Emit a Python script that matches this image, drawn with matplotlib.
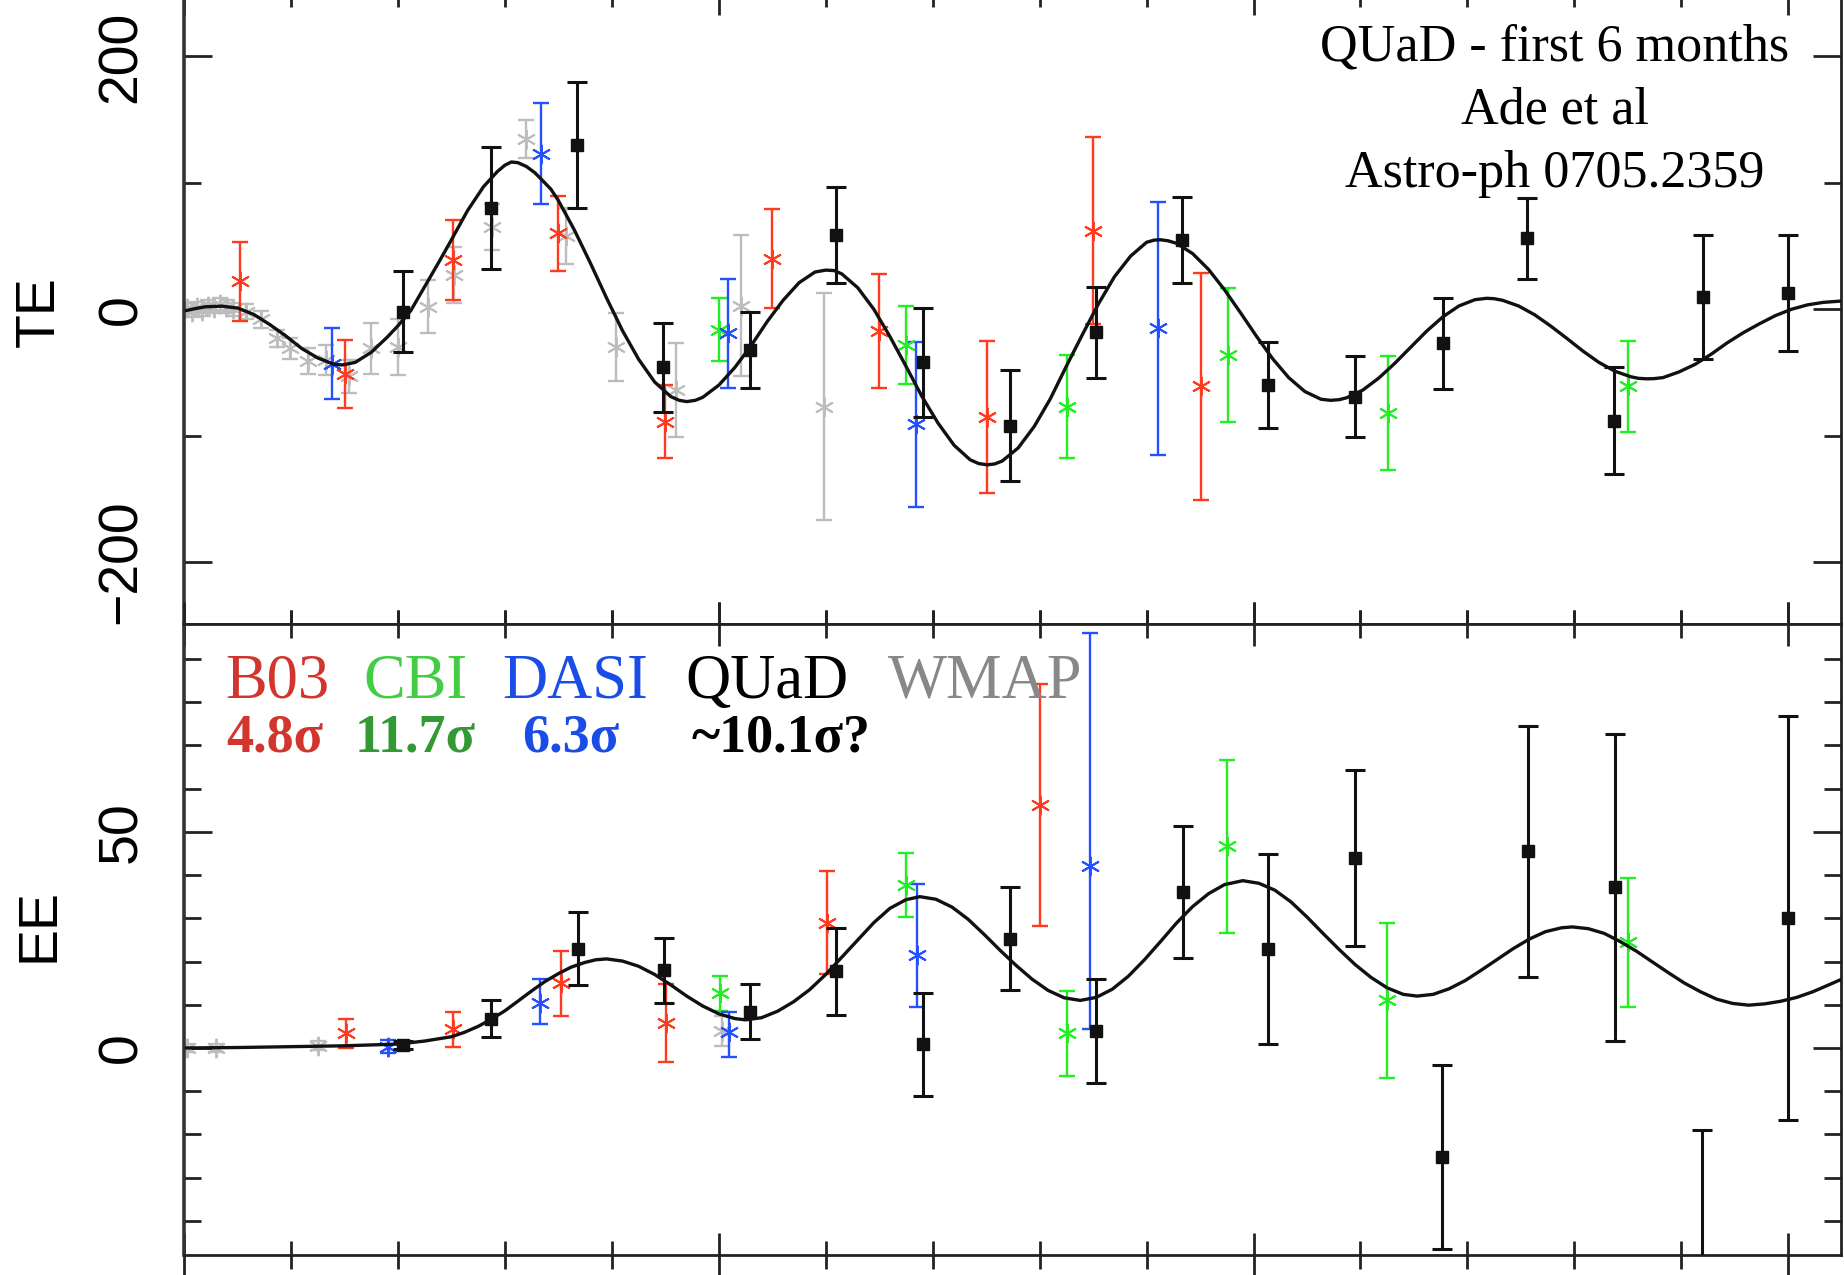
import matplotlib
matplotlib.use("Agg")
import matplotlib.pyplot as plt
from matplotlib.ticker import MultipleLocator, FixedLocator, NullFormatter

# ---------------- data (TE panel) ----------------
te_theory_l = [2, 10, 20, 35, 50, 65, 80, 95, 110, 125, 140, 148, 160, 175, 190, 200, 212, 225,
               238, 250, 265, 280, 293, 300, 306, 312, 320, 328, 335, 343, 350, 365, 380, 395,
               410, 425, 440, 455, 463, 470, 478, 485, 500, 515, 530, 545, 560, 575, 590, 600,
               608, 615, 630, 645, 660, 675, 690, 705, 720, 735, 743, 751, 758, 765, 780, 795,
               810, 825, 840, 855, 870, 885, 900, 907, 913, 920, 928, 943, 958, 973, 988, 1003,
               1018, 1033, 1048, 1063, 1072, 1080, 1087, 1102, 1117, 1132, 1147, 1162, 1177,
               1192, 1207, 1218, 1225, 1233, 1248, 1263, 1278, 1293, 1308, 1323, 1338, 1353,
               1360, 1368, 1375, 1383, 1398, 1413, 1428, 1443, 1458, 1473, 1488, 1503, 1518,
               1533, 1549]
te_theory = [-1, 0.5, 2, 2.5, 1, -4, -12, -21, -31, -38.5, -43.5, -44, -42, -34, -22, -13, -1, 18,
             37, 55, 78, 97, 109, 114, 116.5, 116, 113, 108, 102, 95, 86, 62.6, 36.4, 9,
             -17, -39.5, -57.5, -69, -72, -73, -72, -69.6, -60, -46, -29, -10, 7, 21, 29.5, 31,
             30.6, 28, 17, 0, -21.5, -45, -69, -90, -107.5, -119, -122, -123, -122.3, -120, -109.6, -92.6,
             -70.8, -45, -20, 4.3, 25.8, 42, 53, 54.7, 55, 54.2, 52.2, 44.1, 31.5, 15.3, -2.9, -21.6,
             -39.2, -54.1, -65, -71.1, -72, -71.5, -70, -64, -54.5, -42.8, -30, -17.2, -6,
             2.6, 7.6, 8.7, 8.4, 7.1, 2.6, -4.4, -13.3, -23, -33, -42, -49, -53.4,
             -54.6, -55, -54.8, -54, -49.5, -43.5, -35.5, -26.5, -18.5, -11.5, -5, 0, 3.5,
             5.5, 6.5]

te_b03_l = [52, 150, 251, 350, 450, 550, 650, 751, 850, 951]
te_b03 = [22, -51, 39, 60, -89, 40, -17, -85, 62, -61]
te_b03_err = [31, 27, 32, 30, 29, 39, 45, 60, 74, 90]

te_cbi_l = [500, 675, 826, 976, 1126, 1350]
te_cbi = [-16, -28, -77, -36, -82, -61]
te_cbi_err = [25, 31, 41, 53, 45, 36]

te_dasi_l = [138, 334, 509, 684, 911]
te_dasi = [-43, 123, -19, -91, -15]
te_dasi_err = [28, 40, 43, 65, 100]

te_quad_l = [205, 287, 367, 448, 529, 610, 691, 772, 853, 933, 1014, 1095, 1177, 1256, 1337, 1420, 1500]
te_quad = [-2, 80, 130, -46, -32, 59, -42, -92, -18, 55, -60, -69, -27, 56, -88, 10, 13]
te_quad_err = [32, 48, 50, 35, 30, 38, 43, 44, 36, 34, 34, 32, 36, 32, 42, 49, 46]

te_wmap_l = [3, 7, 12, 17, 22, 28, 34, 40, 46, 58, 72, 87, 99, 116, 133, 154, 175, 200, 228,
             252, 288, 320, 357, 404, 460, 521, 598]
te_wmap = [1, -2, 2, -1, 3, 1, 4, 2, 0, -2, -8, -23, -31, -41, -40, -53, -31, -30, 2,
           27, 65, 135, 58, -30, -64, 3, -77]
te_wmap_err = [4, 4, 4, 4, 4, 4, 5, 5, 5, 6, 7, 7, 8, 10, 12, 13, 20, 22, 21,
               22, 18, 15, 22, 27, 37, 56, 90]

# ---------------- data (EE panel) ----------------
ee_theory_l = [2, 50, 100, 150, 200, 225, 250, 262, 275, 287, 300, 312, 325, 337, 350, 362, 375,
               385, 395, 410, 425, 440, 455, 470, 485, 500, 515, 525, 540, 555, 570, 585, 600,
               615, 630, 645, 660, 675, 688, 703, 718, 733, 748, 763, 778, 793, 808, 823, 838,
               853, 868, 883, 898, 913, 928, 943, 958, 973, 990, 1005, 1020, 1035, 1050, 1065,
               1080, 1095, 1110, 1125, 1140, 1153, 1168, 1183, 1198, 1213, 1228, 1243, 1258,
               1273, 1288, 1298, 1313, 1328, 1343, 1358, 1373, 1388, 1403, 1418, 1433, 1448,
               1463, 1478, 1493, 1508, 1523, 1538, 1549]
ee_theory = [0, 0.1, 0.3, 0.5, 0.9, 1.6, 2.6, 3.6, 5.0, 6.6, 8.6, 10.8, 13.2, 15.3, 17.2, 18.7, 19.8,
             20.4, 20.6, 20.1, 18.9, 17, 14.6, 12, 9.7, 7.9, 6.8, 6.5, 7, 8.5, 10.7, 13.5, 17,
             21, 25, 29, 32.3, 34.3, 35, 34.4, 32.6, 29.8, 26.3, 22.6, 19.1, 15.9, 13.3, 11.6, 11,
             11.7, 13.6, 16.6, 20.4, 24.6, 28.9, 32.7, 35.7, 37.8, 38.7, 38.1, 36.5, 33.8, 30.3, 26.5,
             22.8, 19.3, 16.3, 13.9, 12.4, 12, 12.4, 13.7, 15.6, 18, 20.5, 23, 25.2,
             26.9, 27.8, 28, 27.6, 26.5, 24.6, 22.4, 19.9, 17.4, 15, 13, 11.3, 10.3,
             9.9, 10.2, 10.8, 11.7, 13, 14.6, 15.8]

ee_b03_l = [151, 251, 352, 451, 601, 800]
ee_b03 = [3.4, 4.3, 15, 5.7, 29, 56.3]
ee_b03_err = [3.3, 4, 7.5, 9, 12, 28]

ee_cbi_l = [501, 675, 826, 975, 1125, 1350]
ee_cbi = [12.6, 37.7, 3.4, 46.7, 11, 24.4]
ee_cbi_err = [4, 7.5, 9.8, 20, 18, 15]

ee_dasi_l = [191, 333, 510, 685, 847]
ee_dasi = [0.3, 10.5, 3.8, 21.5, 42]
ee_dasi_err_lo = [1.5, 5, 6, 12, 37.5]
ee_dasi_err_hi = [1.5, 5.5, 4.6, 16.5, 54]

ee_quad_l = [205, 287, 368, 449, 529, 610, 691, 772, 853, 934, 1014, 1095, 1176, 1257, 1338, 1419, 1500]
ee_quad = [0.7, 6.8, 23, 18, 8.4, 17.7, 0.8, 25.3, 3.9, 36, 22.9, 43.9, -25.3, 45.5, 37.2, -58, 30]
ee_quad_err = [1, 4.2, 8.4, 7.5, 6.4, 10, 11.8, 12, 12, 15.3, 22, 20.3, 21.3, 29, 35.5, 39, 46.7]

ee_wmap_l = [3, 30, 125, 503]
ee_wmap = [0, 0, 0.5, 4]
ee_wmap_err = [1, 1, 1, 3.5]

# ---------------- legend text ----------------
exp_names = ["B03", "CBI", "DASI", "QUaD", "WMAP"]
exp_sigmas = ["4.8σ", "11.7σ", "6.3σ", "~10.1σ?"]
note_lines = ["QUaD - first 6 months", "Ade et al", "Astro-ph 0705.2359"]

# ---------------- styles ----------------
C_RED = "#ff3a1e"
C_GREEN = "#22ee22"
C_BLUE = "#2450ff"
C_GRAY = "#bdbdbd"
C_BLACK = "#111111"
STAR = (6, 2, 0)

W, H = 1844, 1275
fig = plt.figure(figsize=(W / 100, H / 100), dpi=100)
fig.patch.set_facecolor("white")

ax1 = fig.add_axes([0.09984, 0.51098, 0.89832, 0.49435])
ax2 = fig.add_axes([0.09984, 0.01569, 0.89832, 0.49529])


def star_series(ax, l, v, err, color, z=3):
    ax.errorbar(l, v, yerr=err, fmt="none", ecolor=color, elinewidth=1.7,
                capsize=6, capthick=1.7, zorder=z)
    ax.plot(l, v, linestyle="none", marker=STAR, ms=14, mew=1.4,
            color=color, zorder=z + 0.1)


def quad_series(ax, l, v, err):
    ax.errorbar(l, v, yerr=err, fmt="s", color=C_BLACK, ms=9, ecolor=C_BLACK,
                elinewidth=2.2, capsize=7, capthick=2.2, zorder=7)


# TE panel
star_series(ax1, te_wmap_l, te_wmap, te_wmap_err, C_GRAY, z=2)
star_series(ax1, te_b03_l, te_b03, te_b03_err, C_RED)
star_series(ax1, te_cbi_l, te_cbi, te_cbi_err, C_GREEN)
star_series(ax1, te_dasi_l, te_dasi, te_dasi_err, C_BLUE)
ax1.plot(te_theory_l, te_theory, color=C_BLACK, lw=2.4, zorder=6,
         solid_joinstyle="round", solid_capstyle="round")
quad_series(ax1, te_quad_l, te_quad, te_quad_err)

# EE panel
star_series(ax2, ee_wmap_l, ee_wmap, ee_wmap_err, C_GRAY, z=2)
star_series(ax2, ee_b03_l, ee_b03, ee_b03_err, C_RED)
star_series(ax2, ee_cbi_l, ee_cbi, ee_cbi_err, C_GREEN)
star_series(ax2, ee_dasi_l, ee_dasi, [ee_dasi_err_lo, ee_dasi_err_hi], C_BLUE)
ax2.plot(ee_theory_l, ee_theory, color=C_BLACK, lw=2.4, zorder=6,
         solid_joinstyle="round", solid_capstyle="round")
quad_series(ax2, ee_quad_l, ee_quad, ee_quad_err)

ax1.set_xlim(0, 1549)
ax2.set_xlim(0, 1549)
ax1.set_ylim(-248.5, 250)
ax2.set_ylim(-47.9, 98.2)

for ax in (ax1, ax2):
    for side, sp in ax.spines.items():
        sp.set_linewidth(2.0)
        sp.set_color("#222222")
    ax.spines["left"].set_linewidth(2.6)
    ax.spines["left"].set_color("#333333")
    ax.xaxis.set_major_locator(MultipleLocator(500))
    ax.xaxis.set_minor_locator(MultipleLocator(100))
    ax.xaxis.set_major_formatter(NullFormatter())
    ax.tick_params(axis="x", which="both", direction="inout", top=True, bottom=True,
                   width=2.0, color="#222222", labelbottom=False)
    ax.tick_params(axis="x", which="major", length=32)
    ax.tick_params(axis="x", which="minor", length=20)
    ax.tick_params(axis="y", which="both", direction="in", left=True, right=True,
                   width=2.0, color="#222222")
    ax.tick_params(axis="y", which="major", length=20, labelsize=40, pad=26,
                   labelrotation=90)
    ax.tick_params(axis="y", which="minor", length=12)

ax1.yaxis.set_major_locator(FixedLocator([-200, 0, 200]))
ax1.yaxis.set_minor_locator(FixedLocator([-100, 100]))
ax2.yaxis.set_major_locator(FixedLocator([0, 50]))
ax2.yaxis.set_minor_locator(FixedLocator([-40, -30, -20, -10, 10, 20, 30, 40, 60, 70, 80, 90]))

for ax in (ax1, ax2):
    for t in ax.get_yticklabels():
        t.set_fontfamily("Liberation Sans")
        t.set_verticalalignment("center")

# axis titles
fig.text(0.0213, 0.7553, "TE", rotation=90, fontsize=40, family="Liberation Sans",
         ha="center", va="center")
fig.text(0.0213, 0.2745, "EE", rotation=90, fontsize=40, family="Liberation Sans",
         ha="center", va="center")

# annotation
serif = "Liberation Serif"
for line, yb in zip(note_lines, [0.9529, 0.9035, 0.8533]):
    fig.text(0.8433, yb, line, fontsize=37.5, family=serif, ha="center", va="baseline",
             color="black")

# legend names
name_x = [0.1220, 0.1969, 0.2721, 0.3715, 0.4816]
name_c = ["#d2352d", "#44cc44", "#1a4de8", "#000000", "#888888"]
for nm, x, c in zip(exp_names, name_x, name_c):
    fig.text(x, 0.4529, nm, fontsize=45, family=serif, color=c, ha="left", va="baseline")

sig_x = [0.1229, 0.1925, 0.2829, 0.3751]
sig_c = ["#d2352d", "#339933", "#1a4de8", "#000000"]
for s, x, c in zip(exp_sigmas, sig_x, sig_c):
    fig.text(x, 0.4102, s, fontsize=39, family=serif, weight="bold", color=c,
             ha="left", va="baseline")

fig.savefig("out.png", dpi=100, facecolor="white")
